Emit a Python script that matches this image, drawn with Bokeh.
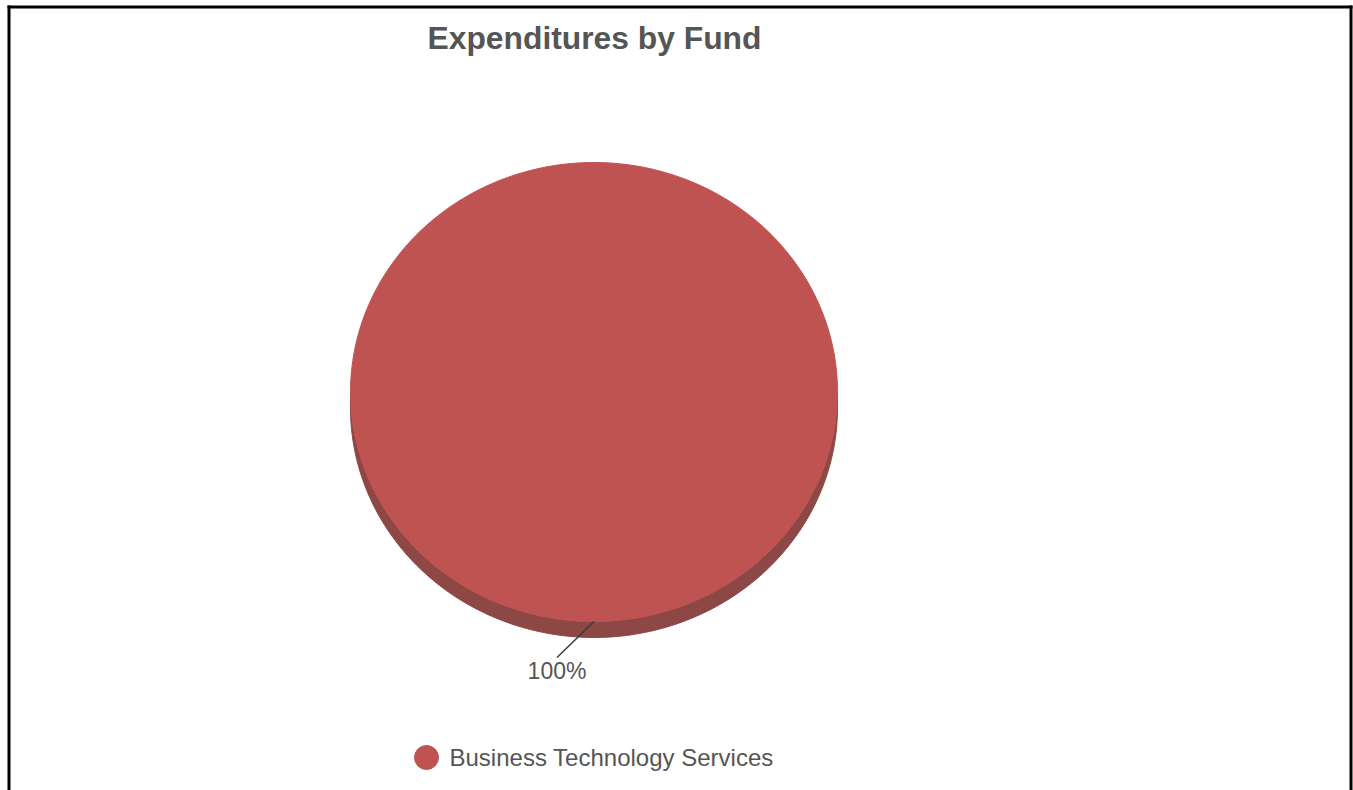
import numpy as np
from bokeh.plotting import figure
from bokeh.models import Range1d
from bokeh.embed import file_html
from bokeh.resources import INLINE
from bokeh.core.properties import value

# ---- data ----
title_text = "Expenditures by Fund"
categories = ["Business Technology Services"]
values = [100.0]
colors = ["#BF5351"]
side_colors = ["#8D4846"]

# ---- layout ----
W, H = 1353, 790
CX, CY = 593.5, 391.5
RX, RY = 243.5, 229.5
DEPTH = 16
FONT = "Liberation Sans"

p = figure(width=W, height=H, output_backend="svg", toolbar_location=None,
           x_range=Range1d(0, W), y_range=Range1d(H, 0),
           min_border=0, border_fill_color="white", background_fill_color="white")
p.axis.visible = False
p.grid.visible = False
p.outline_line_color = None

# border
p.line([8.5, 8.5], [5, H + 5], line_color="black", line_width=3)
p.line([1350.5, 1350.5], [5, H + 5], line_color="black", line_width=3)
p.line([7, 1352], [6.5, 6.5], line_color="black", line_width=3)

total = float(sum(values))
start = -np.pi / 2
label_pts = []
for v, c, sc in zip(values, colors, side_colors):
    frac = v / total
    a0, a1 = start, start + frac * 2 * np.pi
    s0, s1 = max(a0, 0.0), min(a1, np.pi)
    if s1 > s0 or frac >= 1.0:
        if frac >= 1.0:
            s0, s1 = 0.0, np.pi
        t = np.linspace(s0, s1, 200)
        xs = np.concatenate([CX + RX * np.cos(t), CX + RX * np.cos(t[::-1])])
        ys = np.concatenate([CY + RY * np.sin(t), CY + DEPTH + RY * np.sin(t[::-1])])
        p.patch(xs, ys, fill_color=sc, line_color=sc, line_width=1)
    t = np.linspace(a0, a1, 400)
    if frac >= 1.0:
        xs, ys = CX + RX * np.cos(t), CY + RY * np.sin(t)
    else:
        xs = np.concatenate([[CX], CX + RX * np.cos(t)])
        ys = np.concatenate([[CY], CY + RY * np.sin(t)])
    p.patch(xs, ys, fill_color=c, line_color=c, line_width=1)
    mid = (a0 + a1) / 2
    label_pts.append((CX + RX * np.cos(mid), CY + RY * np.sin(mid), frac))
    start = a1

for (lx, ly, frac) in label_pts:
    ex, ey = lx - 37, ly + 36
    p.line([lx, ex], [ly, ey], line_color="#3a3a3a", line_width=1.5)
    p.text([ex], [ey + 13], text=["%d%%" % round(frac * 100)], text_align="center",
           text_baseline="alphabetic", text_font=value(FONT), text_font_size="23px",
           text_color="#555555")

# title
p.text([594], [37], text=[title_text], text_align="center", text_baseline="alphabetic",
       text_font=value(FONT), text_font_size="31.8px", text_font_style="bold",
       text_color="#555555")

# legend
for i, (cat, c) in enumerate(zip(categories, colors)):
    p.scatter([426], [757], size=24, marker="circle", fill_color=c, line_color=c)
    p.text([449], [756.5], text=[cat], text_align="left", text_baseline="alphabetic",
           text_font=value(FONT), text_font_size="24px", text_color="#555555")

open("out.html", "w").write(file_html(p, INLINE))
